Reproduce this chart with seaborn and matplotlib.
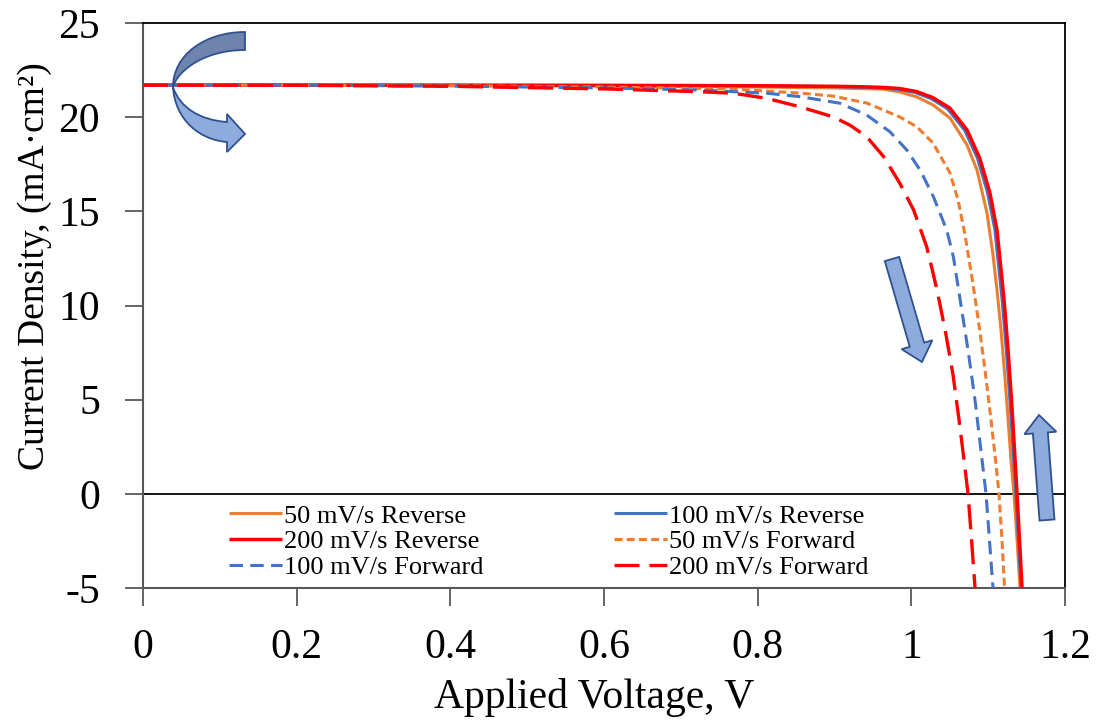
import matplotlib
matplotlib.use("Agg")
import matplotlib.pyplot as plt
import seaborn as sns
from matplotlib.patches import FancyArrow, PathPatch
from matplotlib.path import Path
from matplotlib.transforms import Affine2D

# J-V sweeps: applied voltage (V) and current density (mA/cm2)
v_rev50 = [0.0, 0.2, 0.4, 0.6, 0.8, 0.9, 0.963, 0.985, 1.0074, 1.0282, 1.0504, 1.0725,
           1.0855, 1.0985, 1.1063, 1.1115, 1.1167, 1.1219, 1.1258, 1.1297, 1.1336,
           1.1376, 1.1415]
j_rev50 = [21.7, 21.7, 21.68, 21.66, 21.6, 21.55, 21.49, 21.34, 21.07, 20.65, 19.95,
           18.52, 17.19, 14.91, 12.68, 10.82, 8.7, 6.15, 4.02, 1.79, 0.0, -2.44, -5.0]

v_rev100 = [0.0, 0.2, 0.4, 0.6, 0.8, 0.9, 0.94, 0.961, 0.982, 1.004, 1.025, 1.047,
            1.0695, 1.086, 1.099, 1.1088, 1.1128, 1.1182, 1.1236, 1.1283, 1.1325,
            1.136, 1.1394, 1.1428]
j_rev100 = [21.7, 21.7, 21.69, 21.68, 21.66, 21.62, 21.58, 21.55, 21.48, 21.32, 21.0,
            20.45, 19.3, 17.83, 16.03, 14.01, 12.41, 10.29, 7.63, 4.98, 2.32, 0.0,
            -2.46, -5.0]

v_rev200 = [0.0, 0.2, 0.4, 0.6, 0.8, 0.9, 0.941, 0.963, 0.985, 1.007, 1.028, 1.05,
            1.0725, 1.089, 1.102, 1.1115, 1.1155, 1.1207, 1.1259, 1.1304, 1.1343,
            1.1376, 1.1408, 1.1441]
j_rev200 = [21.7, 21.7, 21.7, 21.69, 21.67, 21.64, 21.61, 21.58, 21.52, 21.36, 21.04,
            20.49, 19.32, 17.83, 16.03, 14.01, 12.41, 10.29, 7.63, 4.98, 2.32, 0.0,
            -2.46, -5.0]

v_fwd50 = [0.0, 0.2, 0.4, 0.6, 0.768, 0.855, 0.898, 0.942, 0.985, 1.0074, 1.0282,
           1.0504, 1.0608, 1.0699, 1.079, 1.0881, 1.0959, 1.1037, 1.1096, 1.1141,
           1.118, 1.1213]
j_fwd50 = [21.7, 21.7, 21.67, 21.6, 21.49, 21.28, 21.12, 20.75, 20.01, 19.48, 18.63,
           17.03, 15.6, 13.74, 11.46, 8.96, 6.57, 3.92, 1.8, 0.0, -2.46, -5.0]

v_fwd100 = [0.0, 0.2, 0.4, 0.6, 0.725, 0.812, 0.855, 0.907, 0.942, 0.972, 0.994,
            1.0115, 1.0287, 1.0461, 1.0547, 1.064, 1.0738, 1.0829, 1.0972, 1.1063]
j_fwd100 = [21.7, 21.7, 21.65, 21.55, 21.44, 21.27, 21.09, 20.74, 20.11, 19.23, 18.26,
            17.19, 15.78, 14.0, 12.59, 10.18, 7.63, 4.98, 0.0, -5.0]

v_fwd200 = [0.0, 0.2, 0.4, 0.6, 0.725, 0.768, 0.812, 0.855, 0.898, 0.92, 0.942, 0.964,
            0.985, 1.003, 1.02, 1.0335, 1.0452, 1.0543, 1.0621, 1.0686, 1.0738,
            1.0784, 1.0829]
j_fwd200 = [21.7, 21.69, 21.64, 21.5, 21.35, 21.27, 21.0, 20.55, 20.02, 19.58, 18.96,
            17.9, 16.49, 15.07, 13.12, 10.82, 8.43, 6.31, 3.92, 1.79, 0.0, -2.46, -5.0]

series_labels = ["50 mV/s Reverse", "100 mV/s Reverse", "200 mV/s Reverse",
                 "50 mV/s Forward", "100 mV/s Forward", "200 mV/s Forward"]

x_ticks = [0, 0.2, 0.4, 0.6, 0.8, 1.0, 1.2]
x_tick_labels = ["0", "0.2", "0.4", "0.6", "0.8", "1", "1.2"]
y_ticks = [-5, 0, 5, 10, 15, 20, 25]
y_tick_labels = ["-5", "0", "5", "10", "15", "20", "25"]

ORANGE = "#ED7D31"
BLUE = "#4472C4"
RED = "#FF0000"

sns.set_theme(style="white")
plt.rcParams["font.family"] = ["Liberation Serif", "DejaVu Serif"]
plt.rcParams["axes.unicode_minus"] = False
plt.rcParams["text.color"] = "black"
plt.rcParams["axes.labelcolor"] = "black"

W, H = 1100, 724
fig = plt.figure(figsize=(W / 100, H / 100), dpi=100)
ax = fig.add_axes([143 / W, 1 - 588 / H, 922 / W, 565 / H])

ax.axhline(0, color="black", lw=1.3, zorder=1)

styles = [
    (v_rev50, j_rev50, ORANGE, "-", 2.2),
    (v_rev100, j_rev100, BLUE, "-", 2.2),
    (v_rev200, j_rev200, RED, "-", 2.5),
    (v_fwd50, j_fwd50, ORANGE, (0, (2.6, 1.4)), 2.2),
    (v_fwd100, j_fwd100, BLUE, (0, (4.4, 2.4)), 2.2),
    (v_fwd200, j_fwd200, RED, (0, (7.5, 3.0)), 2.4),
]
order = [3, 4, 5, 0, 1, 2]
handles = {}
for i in order:
    v, j, c, ls, lw = styles[i]
    n_before = len(ax.lines)
    sns.lineplot(x=v, y=j, ax=ax, color=c, lw=lw, legend=False, zorder=2 + i)
    line = ax.lines[n_before]
    line.set_linestyle(ls)
    line.set_solid_capstyle("butt")
    line.set_dash_capstyle("butt")
    line.set_solid_joinstyle("round")
    handles[i] = line

ax.set_xlim(0, 1.2)
ax.set_ylim(-5, 25)
ax.set_xticks(x_ticks)
ax.set_xticklabels(x_tick_labels)
ax.set_yticks(y_ticks)
ax.set_yticklabels(y_tick_labels)
ax.tick_params(axis="both", direction="out", length=13, width=1.3, color="#595959",
               labelsize=30, pad=18, labelcolor="black", bottom=True, left=True)
ax.tick_params(axis="x", pad=16)
for side in ["left", "bottom"]:
    ax.spines[side].set_color("#595959")
    ax.spines[side].set_linewidth(1.5)
for side in ["top", "right"]:
    ax.spines[side].set_color("black")
    ax.spines[side].set_linewidth(1.3)

ax.set_xlabel("Applied Voltage, V", fontsize=30, color="black")
ax.xaxis.label.set_va("center")
ax.xaxis.set_label_coords(0.489, -0.193)
ax.set_ylabel("Current Density, (mA\u00b7cm\u00b2)", fontsize=27, color="black")
ax.yaxis.label.set_va("center")
ax.yaxis.set_label_coords(-0.117, 0.570)

leg_order = [0, 2, 4, 1, 3, 5]
leg = ax.legend([handles[i] for i in leg_order], [series_labels[i] for i in leg_order],
                ncol=2, loc="upper left", bbox_to_anchor=(0.0933, 0.1485), frameon=False,
                fontsize=19, handlelength=2.0, handletextpad=0.1, columnspacing=4.92,
                labelspacing=0.08, borderpad=0, borderaxespad=0)
for t in leg.get_texts():
    t.set_color("black")

# annotation arrows, placed in pixel units from the top-left corner of the figure
px = Affine2D().scale(1 / W, -1 / H).translate(0, 1) + fig.transFigure
ARROW_FILL = "#8FAADC"
ARROW_EDGE = "#2F528F"

for (x0, y0, x1, y1) in [(892, 259, 922, 362), (1047, 520, 1039, 415)]:
    fig.add_artist(FancyArrow(x0, y0, x1 - x0, y1 - y0, width=15, head_width=32,
                              head_length=18, length_includes_head=True,
                              transform=px, fc=ARROW_FILL, ec=ARROW_EDGE, lw=1.3,
                              zorder=5))

# curved sweep-direction arrow: dark back half and light front half
back = Path(
    [(245, 32), (205, 32), (173, 55), (173, 87),
     (178, 70), (205, 50), (245, 50), (245, 32)],
    [Path.MOVETO, Path.CURVE4, Path.CURVE4, Path.CURVE4,
     Path.CURVE4, Path.CURVE4, Path.CURVE4, Path.CLOSEPOLY])
front = Path(
    [(173, 87), (175, 120), (200, 140), (227, 142),
     (227, 152), (245, 134), (227, 114), (227, 122),
     (200, 120), (180, 108), (173, 87), (173, 87)],
    [Path.MOVETO, Path.CURVE4, Path.CURVE4, Path.CURVE4,
     Path.LINETO, Path.LINETO, Path.LINETO, Path.LINETO,
     Path.CURVE4, Path.CURVE4, Path.CURVE4, Path.CLOSEPOLY])
fig.add_artist(PathPatch(back, transform=px, fc="#6E84AE", ec=ARROW_EDGE, lw=1.3, zorder=5))
fig.add_artist(PathPatch(front, transform=px, fc=ARROW_FILL, ec=ARROW_EDGE, lw=1.3, zorder=5))

fig.savefig("out.png", dpi=100, facecolor="white")
